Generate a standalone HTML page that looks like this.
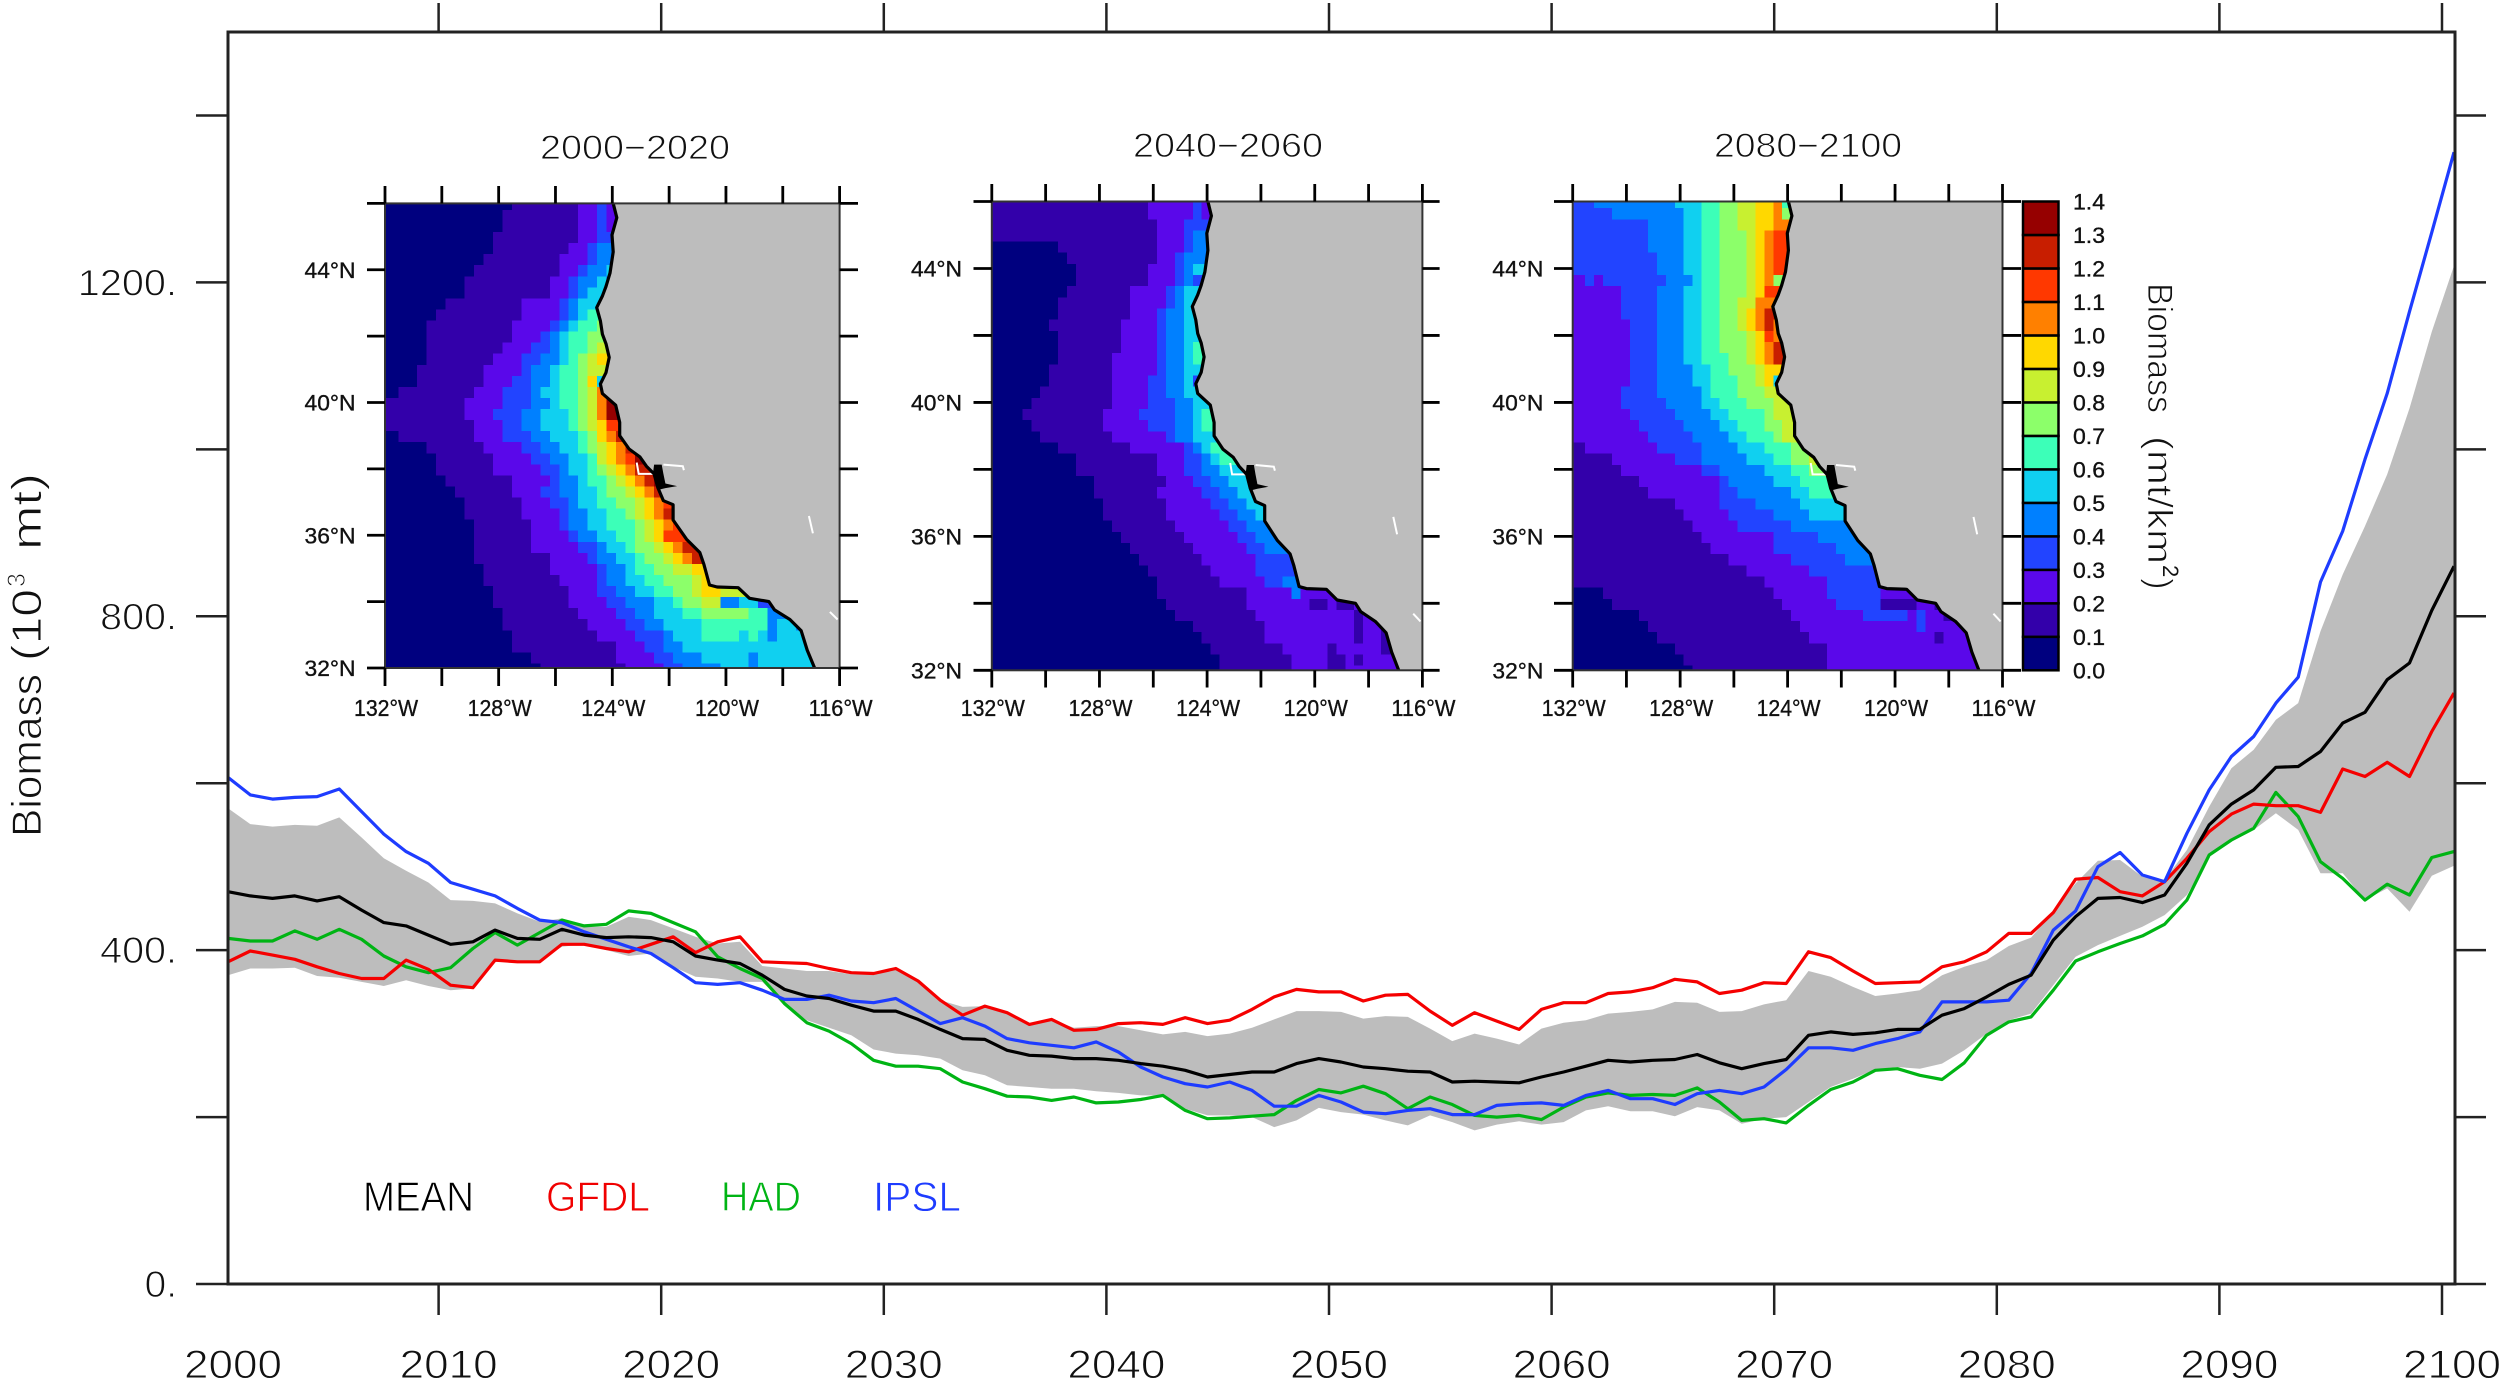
<!DOCTYPE html>
<html lang="en">
<head>
<meta charset="utf-8">
<title>Biomass projections 2000-2100</title>
<style>
html,body{margin:0;padding:0;background:#fff;}
svg{display:block;font-family:"Liberation Sans",sans-serif;}
text{fill:#111;}
text.thin{stroke:#fff;stroke-width:0.9px;}
text.bold{stroke:#111;stroke-width:0.35px;}
</style>
</head>
<body>
<svg id="chart" xmlns="http://www.w3.org/2000/svg" width="2500" height="1382" viewBox="0 0 2500 1382">
  <rect x="0" y="0" width="2500" height="1382" fill="#fff"/>
  <g id="band-layer"></g>
  <g id="line-layer"></g>
  <g id="axis-layer"></g>
  <g id="map-layer"></g>
  <g id="colorbar-layer"></g>

  <g transform="translate(41,837) rotate(-90)">
    <text class="thin" x="0" y="0" font-size="42" textLength="163" lengthAdjust="spacingAndGlyphs">Biomass</text>
    <text class="thin" x="176" y="0" font-size="42" textLength="72" lengthAdjust="spacingAndGlyphs">(10</text>
    <text class="thin" x="250" y="-16" font-size="25">3</text>
    <text class="thin" x="287" y="0" font-size="42" textLength="77" lengthAdjust="spacingAndGlyphs">mt)</text>
  </g>

  <g transform="translate(2148,283) rotate(90)">
    <text class="thin" x="0" y="0" font-size="35" textLength="130" lengthAdjust="spacingAndGlyphs">Biomass</text>
    <text class="thin" x="153" y="0" font-size="35" textLength="128" lengthAdjust="spacingAndGlyphs">(mt/km</text>
    <text x="282" y="-15" font-size="22">2</text>
    <text class="thin" x="295" y="0" font-size="35">)</text>
  </g>

  <g>
    <text class="thin" x="363" y="1211" font-size="42" textLength="111" lengthAdjust="spacingAndGlyphs" style="fill:#000">MEAN</text>
    <text class="thin" x="546" y="1211" font-size="42" textLength="104" lengthAdjust="spacingAndGlyphs" style="fill:#f00000">GFDL</text>
    <text class="thin" x="721" y="1211" font-size="42" textLength="80" lengthAdjust="spacingAndGlyphs" style="fill:#00b414">HAD</text>
    <text class="thin" x="873" y="1211" font-size="42" textLength="88" lengthAdjust="spacingAndGlyphs" style="fill:#1e3cff">IPSL</text>
  </g>

  <text class="thin" x="540" y="159" font-size="34" textLength="190" lengthAdjust="spacingAndGlyphs">2000−2020</text>
  <text class="thin" x="1133" y="157" font-size="34" textLength="190" lengthAdjust="spacingAndGlyphs">2040−2060</text>
  <text class="thin" x="1714" y="157" font-size="34" textLength="188" lengthAdjust="spacingAndGlyphs">2080−2100</text>
</svg>

<script>
// ---------- time-series data (10^3 mt) ----------
const years = Array.from({length: 101}, (_, i) => 2000.54 + i);
const meanSeries = [470,465,462,465,459,464,448,433,429,418,407,410,424,414,413,425,418,415,416,415,410,393,388,384,
370,353,345,342,334,327,327,317,305,294,293,280,274,273,270,270,268,264,261,256,248,251,
254,254,264,270,266,260,258,255,254,242,243,242,241,248,254,261,268,266,268,269,275,265,
258,264,269,298,302,299,301,305,305,322,330,344,359,370,412,440,462,463,457,466,504,550,
575,592,619,620,638,672,685,724,744,807,860];
const gfdlSeries = [386,399,394,389,380,372,366,366,388,377,358,355,388,386,386,407,407,402,398,407,416,397,410,416,
386,385,384,378,373,372,378,363,340,322,333,325,311,317,304,305,312,313,311,319,312,316,
329,344,353,350,350,339,346,347,327,310,325,315,305,329,337,337,348,350,355,365,362,348,
352,361,360,398,391,375,360,361,362,380,386,398,420,420,445,485,487,470,465,482,510,542,
563,575,573,573,565,617,608,625,608,662,708];
const hadSeries = [414,411,411,423,413,425,413,393,380,373,379,402,421,406,421,436,429,431,447,444,433,422,392,378,
366,336,313,303,288,268,261,261,258,242,234,225,224,220,224,217,218,221,226,208,198,199,
201,203,220,233,229,237,228,210,224,215,202,200,202,197,212,224,229,226,227,226,235,218,
196,198,193,214,233,242,256,258,250,245,265,298,314,320,352,387,398,408,417,431,460,514,
532,546,589,560,506,486,460,479,466,511,518];
const ipslSeries = [607,586,581,583,584,593,566,539,518,504,481,473,465,450,436,433,422,413,404,396,379,361,359,361,
352,341,341,346,339,337,342,327,312,319,309,294,289,286,283,290,278,260,248,240,236,242,
232,213,213,226,218,206,204,208,210,203,203,214,216,217,214,226,232,222,222,215,228,232,
228,236,257,283,283,280,288,294,302,338,338,338,340,372,424,447,500,517,490,482,540,592,
632,656,696,727,841,902,988,1067,1165,1260,1356];
const bandUpper = [570,551,548,550,549,559,535,510,495,481,460,459,456,444,434,438,428,428,440,436,426,416,408,410,
381,378,375,375,371,372,378,363,340,332,333,325,311,317,307,309,309,304,299,302,297,300,
307,317,327,327,326,318,321,320,306,291,300,294,287,306,313,316,324,326,329,338,337,326,
327,335,340,375,368,356,345,348,352,370,380,388,405,415,446,480,507,508,488,484,520,572,
618,640,676,696,782,850,908,970,1049,1141,1220];
const bandLower = [370,378,378,379,369,367,362,357,364,357,352,354,386,386,387,404,407,400,393,396,380,368,366,362,
362,336,316,307,298,281,276,274,270,256,250,238,236,234,234,231,229,226,226,210,202,202,
200,188,196,211,206,203,196,190,202,194,184,191,195,191,194,208,213,207,207,201,212,208,
192,198,200,218,236,246,257,260,258,264,280,300,316,324,358,392,406,417,428,442,466,512,
530,544,564,544,492,492,460,474,446,489,501];
const xTickYears = [2000,2010,2020,2030,2040,2050,2060,2070,2080,2090,2100];
const yTickValues = [0,200,400,600,800,1000,1200,1400];
const yTickLabels = {0:"0.",400:"400.",800:"800.",1200:"1200."};

// ---------- map data: each row lists "level:startColumn" runs, level 0 before the first run ----------
const levelColors = ["#00007f","#3300aa","#5a08ea","#2244ff","#0080ff","#10d0f0","#3cffb8","#8cff6a","#c8f030","#ffd800","#ff8000","#ff3800","#c81e00","#960000"];
const colorbarLabels = ["0.0","0.1","0.2","0.3","0.4","0.5","0.6","0.7","0.8","0.9","1.0","1.1","1.2","1.3","1.4"];
const lonTickLabels = ["132°W","128°W","124°W","120°W","116°W"];
const latTickLabels = ["44°N","40°N","36°N","32°N"];
const map2000 = [
"1:13 2:20 3:22 2:23","1:12 2:20 3:22 2:23","1:12 2:20 3:22 2:23","1:11 2:20 3:22","1:11 2:19 3:21 4:22","1:10 2:18 3:21 4:22",
"1:9 2:18 3:20 4:21 5:23","1:8 2:17 3:19 4:20 5:22 3:23","1:8 2:17 3:19 4:20 5:21","1:6 2:14 3:18 4:19 5:20","1:5 2:14 3:18 4:19 5:20 6:21",
"1:4 2:13 3:17 4:18 5:19 6:20 7:22","1:4 2:13 3:16 4:17 5:18 6:19 7:21","1:4 2:12 3:15 4:17 5:18 6:19 7:21 8:22","1:4 2:11 3:14 4:16 5:18 6:19 7:20 8:21 9:22",
"1:3 2:10 3:14 4:15 5:17 6:18 7:20 8:21","1:3 2:10 3:13 4:15 5:17 6:18 7:20 9:21 5:22","1:1 2:9 3:12 4:15 5:16 6:18 7:20 8:21 a:22",
"1:0 2:8 3:12 4:15 5:17 6:18 7:20 8:21 a:22 d:23","1:0 2:8 3:11 4:14 5:16 6:19 7:20 8:21 a:22 d:23","1:0 2:9 3:12 4:14 5:16 6:19 7:20 8:21 9:22 b:23",
"1:1 2:9 3:12 4:15 5:17 6:20 7:21 9:22 a:23 c:24","1:4 2:10 3:14 4:16 5:18 6:20 7:21 8:22 9:23 a:24 c:25","1:5 2:11 3:15 4:17 5:19 6:21 8:22 9:23 a:24 b:25 d:26",
"1:5 2:11 3:16 4:18 5:19 6:21 7:22 8:23 9:24 a:25 c:26","1:6 2:13 3:17 4:18 5:20 6:21 7:23 8:24 9:25 a:26 c:27 d:28","1:7 2:13 3:16 4:18 5:20 6:22 7:23 8:25 9:26 a:27 c:28",
"1:8 2:14 3:17 4:19 5:20 6:22 7:24 8:26 9:27 a:28 b:29","1:8 2:14 3:18 4:19 5:21 6:23 7:25 8:26 9:27 a:28 c:29 a:30","1:9 2:15 3:18 4:19 5:21 6:23 7:26 8:27 9:28 a:29 b:30",
"1:9 2:15 3:19 4:20 5:22 6:24 7:26 8:27 9:28 b:29","1:9 2:15 3:20 4:22 5:23 6:25 7:26 8:28 9:29 a:30 c:31","1:9 2:17 3:21 4:22 5:24 6:26 7:27 8:29 9:30 a:31 c:32",
"1:10 2:17 3:22 4:23 5:25 6:26 7:28 8:30 9:32","1:10 2:18 3:22 4:23 5:25 6:27 7:29 8:32 9:33","1:11 2:19 3:22 4:24 5:26 6:28 7:30 8:32 9:33 8:35",
"1:11 2:19 3:23 4:25 5:28 6:30 7:31 8:33 4:35 5:37 3:39","1:12 2:20 3:24 4:26 5:28 6:31 7:33 6:38 4:40","1:12 2:21 3:25 4:27 5:29 6:33 4:40 5:41 4:43",
"1:13 2:22 3:26 4:29 5:30 6:33 5:37 6:38 5:39 4:40 5:41 4:44","1:13 2:24 3:27 4:29 5:31","1:15 2:24 3:28 4:30 5:33 4:38 5:39","1:16 2:25 3:29 4:31 5:35 4:38 5:39"];
const map2040 = [
"1:0 2:17 3:22 2:23","1:0 2:17 3:22 2:23","1:0 2:18 3:21","1:0 2:18 3:21 4:22","1:7 2:18 3:21 4:22","1:8 2:18 3:20 4:21","1:9 2:17 3:20 4:21 5:22","1:9 2:17 3:20 4:21 3:22",
"1:8 2:15 3:19 4:20 5:21","1:7 2:15 3:19 4:20 5:21","1:7 2:15 3:18 4:19 5:21","1:6 2:14 3:18 4:19 5:21","1:7 2:14 3:18 4:19 5:21","1:7 2:14 3:18 4:19 5:21 6:22",
"1:7 2:13 3:18 4:19 5:21 6:22","1:6 2:13 3:18 4:19 5:21","1:6 2:13 3:17 4:19 5:21 3:22","1:5 2:13 3:17 4:19 5:21","1:4 2:13 3:17 4:20 5:22","1:3 2:12 3:16 4:20 5:22 6:23",
"1:4 2:12 3:17 4:20 5:22 6:23","1:5 2:13 3:19 4:20 5:22","1:7 2:15 3:21 4:22 5:23 6:24","1:9 2:18 3:21 4:23 5:24 6:25","1:9 2:18 3:21 4:23 5:25","1:11 2:19 3:22 4:24 5:26",
"1:11 2:18 3:23 4:25 5:27","1:12 2:19 3:24 4:26 5:28","1:12 2:19 3:25 4:27 5:29","1:13 2:20 3:26 4:28","1:14 2:21 3:27 4:29","1:15 2:22 3:28 4:30","1:16 2:23 3:29","1:17 2:24 3:29",
"1:18 2:25 3:30 4:32","1:18 2:28 4:33 2:34","1:19 2:28 1:35 2:37 1:38 2:40","1:20 2:29 1:40 2:41","1:22 2:30 1:40 2:41 1:43","1:23 2:30 1:40 2:41 1:43","1:24 2:32 1:37 2:38 1:43",
"1:25 2:33 1:37 2:39 1:40 2:41","1:25 2:33 1:37 2:39"];
const map2080 = [
"3:0 4:2 5:11 6:14 7:16 8:18 9:20 a:22 6:23","3:0 4:4 5:12 6:14 7:16 8:18 9:20 a:22 7:23","3:0 4:8 5:12 6:14 7:16 8:18 9:20 a:22","3:0 4:8 5:12 6:14 7:16 8:19 9:20 a:21 b:22",
"3:0 4:8 5:12 6:14 7:16 8:19 9:20 a:21 b:22","3:0 4:9 5:12 6:14 7:16 8:19 9:20 a:21 b:22","3:0 4:9 5:12 6:14 7:16 8:19 9:20 a:21 b:22","2:0 3:1 2:2 3:3 4:10 5:13 6:14 7:16 8:19 9:20 a:21 7:22",
"2:0 3:5 4:9 5:12 6:14 7:16 8:19 9:20 b:21","2:0 3:5 4:9 5:12 6:14 7:16 8:18 a:20","2:0 3:5 4:9 5:12 6:14 7:16 8:18 9:19 a:20 c:21","2:0 3:6 4:9 5:12 6:14 7:16 8:18 9:19 a:20 c:21 a:22",
"2:0 3:6 4:9 5:12 6:14 7:16 8:19 9:20 b:21 a:22","2:0 3:6 4:9 5:12 6:14 7:16 8:19 9:20 a:21 c:22","2:0 3:6 4:9 5:12 6:14 7:17 8:19 9:20 a:21 c:22","2:0 3:6 4:9 5:13 6:15 7:17 8:20 9:21",
"2:0 3:6 4:9 5:13 6:15 7:18 8:20 9:21 5:22","2:0 3:5 4:9 5:14 6:15 7:18 8:21","2:0 3:5 4:10 5:14 6:16 7:19 8:22","2:0 3:6 4:11 5:15 6:17 7:21 8:22","2:0 3:7 4:12 5:16 6:18 7:21 8:23",
"2:0 3:8 4:13 5:17 6:19 7:22 8:23","1:0 2:1 3:9 4:14 5:18 6:21 7:24","1:0 2:4 3:11 4:14 5:19 6:22 7:24 8:26","1:0 2:5 3:14 4:16 5:21 6:24 7:26","1:0 2:7 3:16 4:17 5:22 6:25","1:0 2:8 3:16 4:18 5:24 6:26",
"1:0 2:11 3:16 4:20 5:25","1:0 2:12 3:17 4:22 5:26","1:0 2:13 3:18 4:24","1:0 2:14 3:22 4:27","1:0 2:15 3:22 4:29","1:0 2:17 3:24 4:30","1:0 2:19 3:26","1:0 2:21 3:28","1:3 2:22 3:28 2:34",
"1:4 2:23 3:29 1:34 2:38 1:40","1:7 2:24 3:32 2:37 3:38 2:39 1:41 2:42","1:8 2:25 3:38 2:39","1:9 2:26 1:40 2:41","1:11 2:28","1:12 2:28","1:13 2:28"];
const coastLon = [-123.97,-123.84,-124.01,-123.97,-124.08,-124.22,-124.35,-124.55,-124.42,-124.35,-124.22,-124.11,-124.22,-124.42,-124.35,-123.88,-123.74,-123.74,-123.41,-123.03,-122.80,-122.53,-122.40,-122.20,-121.86,-121.86,-121.39,-120.92,-120.78,-120.58,-120.31,-119.57,-119.17,-118.49,-118.29,-117.75,-117.35,-117.14,-116.88];
const coastLat = [46.0,45.57,45.05,44.54,43.90,43.50,43.21,42.86,42.46,42.06,41.77,41.36,40.90,40.56,40.27,39.92,39.40,39.0,38.60,38.36,38.08,37.85,37.44,37.04,36.92,36.46,35.88,35.48,35.13,34.50,34.44,34.42,34.10,34.00,33.75,33.46,33.12,32.54,32.0];
const bayLon = [-122.53,-122.26,-122.20,-122.13,-121.72,-122.13,-122.33,-122.46,-122.57];
const bayLat = [38.13,38.13,37.85,37.56,37.48,37.42,37.38,37.50,37.85];

// ---------- layout & scales ----------
const SVGNS = "http://www.w3.org/2000/svg";
const plot = {left: 228, right: 2455, top: 32, bottom: 1284};
function xScale(y) { return 216 + (y - 2000) * 22.26; }
function yScale(v) { return plot.bottom - v * (plot.bottom - plot.top) / 1500; }
function mk(parent, tag, attrs, text) {
  const el = document.createElementNS(SVGNS, tag);
  for (const k in attrs) el.setAttribute(k, attrs[k]);
  if (text !== undefined) el.textContent = text;
  parent.appendChild(el);
  return el;
}
const bandLayer = document.getElementById("band-layer");
const lineLayer = document.getElementById("line-layer");
const axisLayer = document.getElementById("axis-layer");
const mapLayer = document.getElementById("map-layer");
const cbLayer = document.getElementById("colorbar-layer");

// ---------- band ----------
const bandTop = years.map((y, i) => xScale(y).toFixed(1) + "," + yScale(bandUpper[i]).toFixed(1));
const bandBottom = years.map((y, i) => xScale(y).toFixed(1) + "," + yScale(bandLower[i]).toFixed(1)).reverse();
const bandEl = mk(bandLayer, "polygon", {points: bandTop.concat(bandBottom).join(" "), fill: "#bdbdbd"});



// ---------- series lines ----------
const seriesList = [
  ["series-had", hadSeries, "#00b414"],
  ["series-gfdl", gfdlSeries, "#f50000"],
  ["series-ipsl", ipslSeries, "#1e3cff"],
  ["series-mean", meanSeries, "#000000"]
];
seriesList.forEach(function (s) {
  const pts = years.map((y, i) => xScale(y).toFixed(1) + "," + yScale(s[1][i]).toFixed(1)).join(" ");
  const line = mk(lineLayer, "polyline", {points: pts, fill: "none", stroke: s[2], "stroke-width": 3.2, "stroke-linejoin": "round"});
  
  
});

// ---------- main axes ----------
const frame = mk(axisLayer, "rect", {x: plot.left, y: plot.top, width: plot.right - plot.left, height: plot.bottom - plot.top, fill: "none", stroke: "#222", "stroke-width": 3});


xTickYears.forEach(function (t) {
  const x = xScale(t);
  if (t > 2000) {
    const b = mk(axisLayer, "line", {x1: x, x2: x, y1: plot.bottom, y2: 1315, stroke: "#222", "stroke-width": 2.5});
    
    
    const u = mk(axisLayer, "line", {x1: x, x2: x, y1: 3, y2: plot.top, stroke: "#222", "stroke-width": 2.5});
    
    
  }
  const lab = mk(axisLayer, "text", {"class": "thin", x: Math.max(x, 223) + 10, y: 1378, "font-size": 40, "text-anchor": "middle", textLength: 98, lengthAdjust: "spacingAndGlyphs"}, String(t));
  
  
});
yTickValues.forEach(function (v) {
  const y = yScale(v);
  const l = mk(axisLayer, "line", {x1: 196, x2: plot.left, y1: y, y2: y, stroke: "#222", "stroke-width": 2.5});
  
  
  const r = mk(axisLayer, "line", {x1: plot.right, x2: 2486, y1: y, y2: y, stroke: "#222", "stroke-width": 2.5});
  
  
  if (yTickLabels[v]) {
    const s = yTickLabels[v];
    const lab = mk(axisLayer, "text", {"class": "thin", x: 177, y: y + 13, "font-size": 37, "text-anchor": "end", textLength: (s.length - 1) * 22.3 + 10, lengthAdjust: "spacingAndGlyphs"}, s);
    
    
  }
});

// ---------- inset maps ----------
const maps = [
  {name: "map-2000-2020", rows: map2000, x0: 385, x1: 839.6, y0: 203.4, y1: 668, tickTo: 858, tickFrom: 367, labelRight: 355.5, tickUp: 186, tickDown: 686, lonBase: 716},
  {name: "map-2040-2060", rows: map2040, x0: 991.8, x1: 1422.4, y0: 201.5, y1: 670.3, tickTo: 1439.6, tickFrom: 973.5, labelRight: 962, tickUp: 184, tickDown: 687.5, lonBase: 716},
  {name: "map-2080-2100", rows: map2080, x0: 1572.7, x1: 2002.5, y0: 201.5, y1: 670.3, tickTo: 2021, tickFrom: 1554, labelRight: 1543.4, tickUp: 184, tickDown: 687.5, lonBase: 716}
];
function levelAt(runs, col) {
  let lev = 0;
  runs.forEach(function (r) {
    const p = r.split(":");
    if (parseInt(p[1], 10) <= col) lev = parseInt(p[0], 16);
  });
  return lev;
}
maps.forEach(function (m) {
  const g = mk(mapLayer, "g", {});
  
  
  const cw = (m.x1 - m.x0) / 48, rh = (m.y1 - m.y0) / 42;
  const lonX = lon => m.x0 + (lon + 132) * (m.x1 - m.x0) / 16;
  const latY = lat => m.y1 - (lat - 32) * (m.y1 - m.y0) / 14;
  const cells = mk(g, "g", {"shape-rendering": "crispEdges"});
  
  
  m.rows.forEach(function (rowStr, r) {
    const runs = rowStr.split(" ");
    const top = r === 0 ? m.y0 : m.y0 + rh * (r - 0.41);
    const bot = Math.min(m.y1, m.y0 + rh * (r + 0.59));
    for (let c = 0; c < 48; c++) {
      const left = c === 0 ? m.x0 : m.x0 + cw * (c + 0.4);
      const right = Math.min(m.x1, m.x0 + cw * (c + 1.4));
      const cell = mk(cells, "rect", {x: left.toFixed(2), y: top.toFixed(2), width: (right - left + 0.4).toFixed(2), height: (bot - top + 0.4).toFixed(2), fill: levelColors[levelAt(runs, c)]});
      
      
    }
  });
  const coastPts = coastLon.map((lo, i) => lonX(lo).toFixed(1) + "," + latY(coastLat[i]).toFixed(1));
  const land = mk(g, "polygon", {points: coastPts.concat([m.x1 + "," + m.y1, m.x1 + "," + m.y0]).join(" "), fill: "#bdbdbd"});
  
  
  const whites = [[[-122.20,38.13],[-121.52,38.08],[-121.48,37.96]],[[-123.14,38.19],[-123.07,37.85],[-122.53,37.85]],[[-117.08,36.58],[-116.94,36.06]],[[-116.34,33.69],[-116.07,33.46]]];
  whites.forEach(function (w) {
    const wl = mk(g, "polyline", {points: w.map(p => lonX(p[0]).toFixed(1) + "," + latY(p[1]).toFixed(1)).join(" "), fill: "none", stroke: "#fff", "stroke-width": 2});
    
    
  });
  const coast = mk(g, "polyline", {points: coastPts.join(" "), fill: "none", stroke: "#000", "stroke-width": 3.2, "stroke-linejoin": "round"});
  
  
  const bay = mk(g, "polygon", {points: bayLon.map((lo, i) => lonX(lo).toFixed(1) + "," + latY(bayLat[i]).toFixed(1)).join(" "), fill: "#000"});
  
  
  const fr = mk(g, "rect", {x: m.x0, y: m.y0, width: m.x1 - m.x0, height: m.y1 - m.y0, fill: "none", stroke: "#333", "stroke-width": 2});
  
  
  for (let i = 0; i <= 8; i++) {
    const x = lonX(-132 + 2 * i);
    const t1 = mk(g, "line", {x1: x, x2: x, y1: m.tickUp, y2: m.y0, stroke: "#000", "stroke-width": 2.8});
    
    
    const t2 = mk(g, "line", {x1: x, x2: x, y1: m.y1, y2: m.tickDown, stroke: "#000", "stroke-width": 2.8});
    
    
    if (i % 2 === 0) {
      const lab = mk(g, "text", {"class": "bold", x: x + 1, y: m.lonBase, "font-size": 23, "text-anchor": "middle", textLength: 64, lengthAdjust: "spacingAndGlyphs"}, lonTickLabels[i / 2]);
      
      
    }
  }
  for (let i = 0; i <= 7; i++) {
    const y = latY(32 + 2 * i);
    const t1 = mk(g, "line", {x1: m.tickFrom, x2: m.x0, y1: y, y2: y, stroke: "#000", "stroke-width": 2.8});
    
    
    const t2 = mk(g, "line", {x1: m.x1, x2: m.tickTo, y1: y, y2: y, stroke: "#000", "stroke-width": 2.8});
    
    
  }
  latTickLabels.forEach(function (s, i) {
    const y = latY(44 - 4 * i);
    const lab = mk(g, "text", {"class": "bold", x: m.labelRight, y: y + 8, "font-size": 22, "text-anchor": "end", textLength: 51, lengthAdjust: "spacingAndGlyphs"}, s);
    
    
  });
});

// ---------- colorbar ----------
const cb = {x0: 2023, x1: 2058.5, y0: 201.5, y1: 670.3};
const cbStep = (cb.y1 - cb.y0) / levelColors.length;
levelColors.forEach(function (col, i) {
  const box = mk(cbLayer, "rect", {x: cb.x0, y: cb.y1 - (i + 1) * cbStep, width: cb.x1 - cb.x0, height: cbStep, fill: col, stroke: "#000", "stroke-width": 2.5});
  
  
});
colorbarLabels.forEach(function (s, i) {
  const lab = mk(cbLayer, "text", {"class": "bold", x: 2073, y: cb.y1 - i * cbStep + 8, "font-size": 22, textLength: 32, lengthAdjust: "spacingAndGlyphs"}, s);
  
  
});
</script>
</body>
</html>
